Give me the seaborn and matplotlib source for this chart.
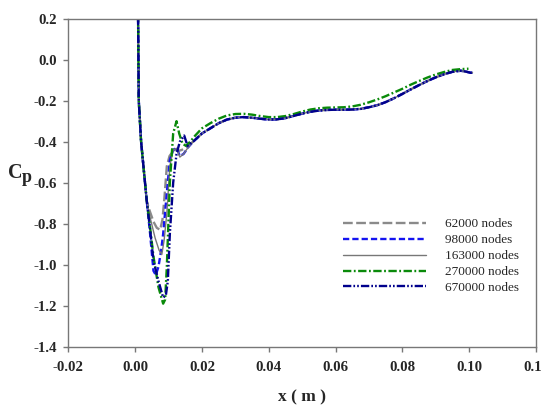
"""
Pressure coefficient along the wall for five mesh sizes (grid independence check).
"""

import numpy as np
import matplotlib.pyplot as plt
import seaborn as sns

# ---- data ----
# steep drop right after the leading edge, shared by all meshes
x_lead = [0.0008, 0.0009, 0.0010, 0.0011, 0.0018, 0.0025, 0.0035]
cp_lead = [0.45, 0.20, 0.00, -0.20, -0.40, -0.52, -0.69]

# suction peak region, different for each mesh
x_62k = [0.0040, 0.0055, 0.0065, 0.0075, 0.0082, 0.0088, 0.0095, 0.0103, 0.0112, 0.0120, 0.0130, 0.0140, 0.0150]
cp_62k = [-0.72, -0.79, -0.82, -0.83, -0.78, -0.67, -0.52, -0.47, -0.45, -0.44, -0.445, -0.44, -0.43]

x_98k = [0.0045, 0.0055, 0.0062, 0.0070, 0.0078, 0.0084, 0.0095, 0.0104, 0.0114, 0.0124, 0.0134, 0.0145]
cp_98k = [-0.85, -1.03, -1.05, -1.01, -0.93, -0.85, -0.65, -0.49, -0.44, -0.43, -0.47, -0.46]

x_163k = [0.0045, 0.0060, 0.0072, 0.0080, 0.0087, 0.0095, 0.0104, 0.0114, 0.0124, 0.0134, 0.0145]
cp_163k = [-0.77, -0.87, -0.93, -0.95, -0.88, -0.75, -0.52, -0.44, -0.432, -0.475, -0.46]

x_270k = [0.0045, 0.0055, 0.0070, 0.0084, 0.0090, 0.0095, 0.0104, 0.0114, 0.0124, 0.0132, 0.0142, 0.0152, 0.0165, 0.0180]
cp_270k = [-0.82, -0.96, -1.11, -1.19, -1.17, -1.01, -0.60, -0.36, -0.30, -0.36, -0.41, -0.42, -0.40, -0.37]

x_670k = [0.0045, 0.0055, 0.0070, 0.0084, 0.0092, 0.0098, 0.0104, 0.0114, 0.0124, 0.0134, 0.0147, 0.0157]
cp_670k = [-0.83, -0.98, -1.08, -1.16, -1.15, -1.08, -0.85, -0.60, -0.46, -0.40, -0.37, -0.42]

# downstream part, where the meshes practically coincide
x_tail = [0.0160, 0.0175, 0.0200, 0.0225, 0.0250, 0.0275, 0.0300, 0.0325, 0.0350, 0.0375,
          0.0400, 0.0425, 0.0450, 0.0475, 0.0500, 0.0525, 0.0550, 0.0575, 0.0600, 0.0625,
          0.0650, 0.0675, 0.0700, 0.0725, 0.0750, 0.0775, 0.0800, 0.0825, 0.0850, 0.0875,
          0.0900, 0.0925, 0.0950, 0.0975, 0.0990, 0.1005, 0.1010]
cp_tail = [-0.425, -0.398, -0.360, -0.335, -0.310, -0.292, -0.283, -0.280, -0.283, -0.288,
           -0.292, -0.291, -0.285, -0.274, -0.263, -0.254, -0.248, -0.245, -0.244, -0.244,
           -0.243, -0.240, -0.232, -0.222, -0.207, -0.188, -0.167, -0.145, -0.124, -0.104,
           -0.086, -0.071, -0.059, -0.054, -0.058, -0.064, -0.063]

# the 270000-node mesh sits slightly higher downstream
x_tail_270k = [0.0200, 0.0225, 0.0250, 0.0275, 0.0300, 0.0325, 0.0350, 0.0375, 0.0400, 0.0425,
               0.0450, 0.0475, 0.0500, 0.0525, 0.0550, 0.0575, 0.0600, 0.0625, 0.0650, 0.0675,
               0.0700, 0.0725, 0.0750, 0.0775, 0.0800, 0.0825, 0.0850, 0.0875, 0.0900, 0.0925,
               0.0950, 0.0975, 0.0998]
cp_tail_270k = [-0.335, -0.310, -0.288, -0.272, -0.265, -0.264, -0.268, -0.275, -0.280, -0.280,
                -0.275, -0.265, -0.253, -0.243, -0.237, -0.234, -0.233, -0.232, -0.228, -0.220,
                -0.208, -0.194, -0.178, -0.160, -0.142, -0.122, -0.104, -0.087, -0.072, -0.060,
                -0.050, -0.046, -0.044]

labels = ['62000 nodes', '98000 nodes', '163000 nodes', '270000 nodes', '670000 nodes']
x_ticks = [-0.02, 0.00, 0.02, 0.04, 0.06, 0.08, 0.10, 0.12]
y_ticks = [-1.4, -1.2, -1.0, -0.8, -0.6, -0.4, -0.2, 0.0, 0.2]

series = [
    (x_lead + x_62k + x_tail[1:], cp_lead + cp_62k + cp_tail[1:]),
    (x_lead + x_98k + x_tail, cp_lead + cp_98k + cp_tail),
    (x_lead + x_163k + x_tail, cp_lead + cp_163k + cp_tail),
    (x_lead + x_270k + x_tail_270k, cp_lead + cp_270k + cp_tail_270k),
    (x_lead + x_670k + x_tail[1:], cp_lead + cp_670k + cp_tail[1:]),
]

# ---- styling ----
sns.set_style('ticks')
plt.rcParams['font.family'] = ['Liberation Serif', 'DejaVu Serif']
plt.rcParams['lines.scale_dashes'] = False

styles = [
    dict(color='#8a8a8a', lw=1.7, linestyle=(0, (7, 2.5))),
    dict(color='#1414f0', lw=1.7, linestyle=(0, (4.5, 2.2))),
    dict(color='#777777', lw=1.0, linestyle='-'),
    dict(color='#0a8a0a', lw=1.7, linestyle=(0, (6, 1.8, 1.3, 1.8))),
    dict(color='#00008c', lw=1.7, linestyle=(0, (6, 1.5, 1.2, 1.5, 1.2, 1.5))),
]

fig = plt.figure(figsize=(5.41, 4.08), dpi=100)
ax = fig.add_axes([0.1262, 0.1502, 0.8645, 0.804])

for (xs, ys), lab, st in zip(series, labels, styles):
    sns.lineplot(x=xs, y=ys, ax=ax, label=lab, estimator=None, sort=False, **st)

ax.set_xlim(-0.02, 0.12)
ax.set_ylim(-1.4, 0.2)
ax.set_xticks(x_ticks)
ax.set_yticks(y_ticks)
ax.set_xticklabels([f'{t:.2f}' for t in x_ticks])
ax.set_yticklabels([f'{t:.1f}' for t in y_ticks])

for side in ['left', 'right', 'top', 'bottom']:
    ax.spines[side].set_color('#777777')
    ax.spines[side].set_linewidth(1.0)
ax.tick_params(axis='x', direction='out', length=3.5, width=1, color='#777777', pad=7)
ax.tick_params(axis='y', direction='out', length=3.5, width=1, color='#777777', pad=4.5)
for lbl in ax.get_xticklabels() + ax.get_yticklabels():
    lbl.set_fontsize(10.7)
    lbl.set_fontweight('bold')

ax.set_xlabel('x ( m )', fontsize=12.5, fontweight='bold', labelpad=11)
ax.set_ylabel('')
# C_p label, written as two pieces like the original
fig.text(0.0153, 0.563, 'C', fontsize=14.5, fontweight='bold', va='baseline')
fig.text(0.0400, 0.554, 'p', fontsize=13, fontweight='bold', va='baseline')

ax.legend(loc='upper left', bbox_to_anchor=(0.588, 0.392), frameon=False,
          fontsize=9.5, handlelength=6.3, handletextpad=1.4, labelspacing=0.28,
          borderpad=0, borderaxespad=0)

plt.savefig('out.png', dpi=100)
plt.close()
